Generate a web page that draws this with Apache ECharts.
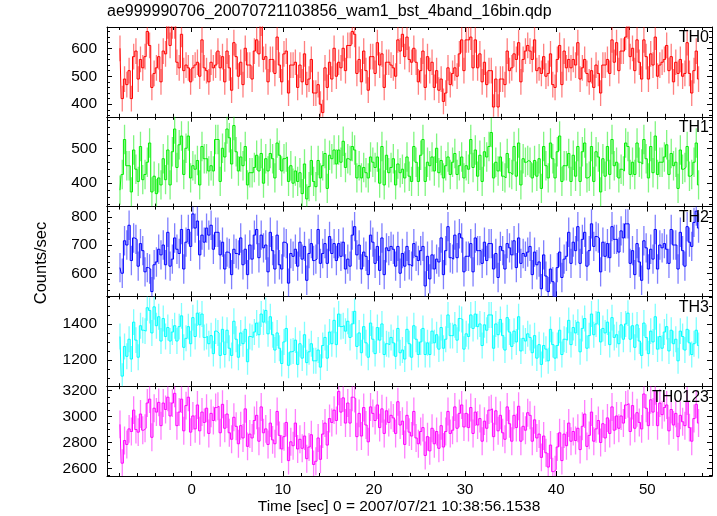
<!DOCTYPE html>
<html>
<head>
<meta charset="utf-8">
<script src="https://cdn.jsdelivr.net/npm/echarts@6.0.0/dist/echarts.min.js"></script>
<style>html,body{margin:0;padding:0;background:#fff}#c{width:717px;height:516px}</style>
</head>
<body>
<div id="c"></div>
<script>
// ---- data ----
const titleText = 'ae999990706_20070721103856_wam1_bst_4band_16bin.qdp';
const xTitle = 'Time [sec] 0 = 2007/07/21 10:38:56.1538';
const yTitle = 'Counts/sec';
const binStart = -7.875;   // centre of the first time bin (s)
const binWidth = 0.25;     // bin width (s)
const xMin = -9.3, xMax = 57.1;
const xMajorTicks = [0, 10, 20, 30, 40, 50];
const xMinorTicks = [-8, -6, -4, -2, 2, 4, 6, 8, 12, 14, 16, 18, 22, 24, 26, 28, 32, 34, 36, 38, 42, 44, 46, 48, 52, 54, 56];

const bandNames = ['TH0', 'TH1', 'TH2', 'TH3', 'TH0123'];
const bandColors = ['#ff0000', '#00ee00', '#0000ff', '#00ffff', '#ff00ff'];
const bandErr = [46, 42, 52, 72, 108];
const yMins = [355, 333, 518, 1054, 2541];
const yMaxs = [676, 590, 836, 1553, 3235];
const yMajor = [[400, 500, 600], [400, 500], [600, 700, 800], [1200, 1400], [2600, 2800, 3000, 3200]];
const yMinorStep = [20, 20, 20, 50, 50];

const TH0 = [
600,420,490,470,520,420,570,590,490,560,530,570,660,610,460,510,530,570,480,590,
580,680,610,680,680,550,530,650,520,540,530,480,530,540,550,500,630,530,520,480,
550,530,540,590,530,570,480,590,530,450,620,570,500,550,470,600,540,540,490,590,
630,580,690,560,570,480,560,560,510,640,540,480,580,590,440,540,540,550,460,540,
480,580,470,490,560,440,440,470,400,370,530,460,550,490,600,500,550,530,600,520,
610,610,660,650,510,560,480,590,520,450,570,570,510,620,540,580,460,550,550,540,
530,500,630,590,650,570,640,560,550,600,550,480,520,590,460,570,520,550,460,520,
450,490,410,440,530,470,510,530,500,580,630,520,630,630,640,530,630,530,580,480,
550,470,520,520,390,490,390,490,490,470,590,520,530,580,560,620,480,560,590,610,
590,560,630,520,530,510,570,500,510,580,470,460,560,610,470,590,530,560,530,560,
540,620,490,530,560,510,480,520,460,540,510,440,540,540,560,510,630,550,620,520,
590,590,640,680,570,600,520,630,550,490,630,570,490,580,540,640,500,540,550,560,
610,520,570,480,550,510,560,500,510,620,510,440,520,590,490];

const TH1 = [
380,425,525,450,450,375,495,440,405,505,410,425,460,515,375,420,370,415,395,470,
410,495,395,490,555,445,510,535,425,500,535,415,450,440,465,395,505,470,470,435,
450,435,525,525,405,500,475,555,530,455,565,490,435,475,450,505,395,430,430,445,
480,435,485,400,470,435,485,470,415,515,480,435,470,475,405,450,400,435,405,430,
370,455,355,390,465,405,390,465,415,450,485,385,480,470,495,455,495,460,520,445,
470,465,505,495,415,450,415,445,430,415,475,460,445,475,400,505,395,480,430,445,
470,395,455,430,440,415,475,420,405,505,460,405,480,525,405,460,450,475,435,500,
430,465,415,450,475,425,460,485,425,450,475,415,450,440,525,445,495,420,480,405,
490,475,505,545,415,460,435,475,420,415,485,430,425,505,420,515,395,470,460,465,
460,415,465,420,470,385,505,450,415,515,470,415,490,535,405,450,450,485,405,480,
420,505,405,490,515,415,420,505,405,490,475,375,470,420,505,425,525,450,460,415,
440,435,515,505,425,460,425,515,460,455,525,470,415,505,430,535,425,460,460,475,
510,425,485,450,460,385,495,440,445,505,420,425,460,515,395];

const TH2 = [
620,600,715,700,770,645,725,720,625,705,680,605,620,615,535,630,640,685,665,700,
630,745,625,650,725,685,670,755,615,710,755,695,810,760,785,665,735,710,760,735,
770,685,745,745,665,710,615,675,670,595,685,670,665,725,630,685,595,700,650,735,
755,655,735,690,700,605,745,680,615,735,630,615,710,705,565,670,660,685,625,710,
650,695,575,670,705,645,650,755,635,670,705,635,730,670,705,645,705,660,710,615,
650,625,735,765,665,700,615,675,660,595,735,710,635,695,610,725,595,690,680,695,
685,625,695,600,670,625,695,630,625,705,660,645,680,695,555,660,580,665,615,650,
640,725,595,680,765,655,650,735,655,740,725,605,660,660,705,605,725,680,680,635,
710,645,705,705,615,670,585,695,680,615,705,690,665,715,620,725,635,670,660,675,
695,595,675,630,640,545,665,590,535,615,570,515,620,675,585,650,660,745,635,710,
680,765,635,720,745,625,680,775,695,730,725,605,710,660,705,655,765,720,720,675,
750,725,775,775,635,680,595,705,640,575,715,690,615,685,650,755,615,700,690,705,
685,635,755,700,700,615,745,680,625,765,710,695,780,820,760];

const TH3 = [
1330,1110,1275,1220,1315,1205,1410,1310,1215,1390,1365,1360,1490,1475,1350,1495,1390,1440,1305,1430,
1330,1380,1305,1355,1390,1305,1385,1445,1270,1320,1385,1290,1435,1330,1460,1395,1455,1325,1330,1290,
1335,1235,1360,1350,1225,1370,1230,1365,1265,1225,1415,1315,1215,1350,1290,1370,1190,1330,1325,1355,
1405,1340,1455,1410,1475,1345,1440,1340,1255,1350,1265,1180,1300,1375,1170,1245,1250,1310,1175,1290,
1210,1340,1185,1245,1290,1195,1195,1255,1160,1280,1325,1210,1355,1290,1420,1285,1455,1385,1390,1360,
1415,1325,1400,1470,1275,1350,1240,1385,1295,1215,1405,1315,1235,1380,1310,1400,1230,1290,1285,1325,
1295,1220,1375,1240,1255,1205,1370,1290,1215,1390,1315,1230,1300,1375,1230,1295,1230,1360,1295,1340,
1260,1380,1265,1315,1450,1335,1335,1395,1310,1430,1425,1260,1345,1330,1450,1375,1455,1385,1400,1280,
1395,1365,1450,1450,1265,1400,1340,1425,1335,1255,1435,1355,1275,1360,1300,1440,1250,1320,1305,1345,
1325,1240,1335,1210,1285,1175,1280,1260,1195,1370,1285,1210,1280,1365,1230,1315,1310,1420,1285,1380,
1350,1410,1245,1375,1430,1265,1335,1455,1340,1400,1465,1300,1375,1350,1410,1285,1435,1325,1340,1290,
1395,1315,1400,1460,1315,1390,1270,1395,1305,1225,1405,1325,1235,1360,1300,1440,1260,1330,1265,1355,
1385,1250,1365,1290,1315,1195,1360,1330,1255,1370,1295,1230,1290,1365,1280];

const TH0123 = [
2940,2640,2815,2785,2905,2885,3050,2900,2880,3020,2895,2910,3105,3135,2840,3065,3035,3110,2930,3105,
3055,3150,3005,3105,3180,2930,3035,3135,2890,3085,3150,2880,3005,2905,3090,2890,3035,2955,3065,2870,
3025,2970,3070,3080,2875,3095,2910,3020,2875,2825,2995,2925,2790,2930,2835,3060,2770,2865,2835,2970,
3010,2810,3075,2875,2905,2785,2950,2820,2790,3040,2855,2750,2845,2955,2660,2805,2775,2950,2750,2825,
2755,2850,2675,2765,2860,2630,2655,2835,2670,2865,2950,2780,2985,2955,3050,2970,3195,3035,3145,2950,
3105,2950,3150,3140,2845,3025,2850,3070,2935,2805,3075,3025,2970,3090,2915,3060,2870,3045,2955,3010,
2990,2870,3115,2935,2965,2785,3010,2880,2850,3040,2835,2790,2885,2915,2700,2845,2735,2910,2790,2885,
2755,2930,2765,2885,3040,2870,2895,3075,2910,3025,3090,2920,3025,2915,3070,2870,3035,2935,2985,2810,
2965,2910,3050,3060,2845,3045,2890,3010,2875,2825,3075,2945,2810,3010,2915,3080,2810,2925,2895,3030,
3010,2810,2975,2835,2865,2685,2850,2720,2610,2780,2575,2590,2765,2875,2660,2865,2775,2950,2810,2885,
2815,2910,2745,2925,3020,2770,2855,3035,2810,2905,2970,2800,2945,2835,2990,2870,3075,2895,3005,2910,
3005,2950,3090,3100,2885,3085,2910,3030,2955,2905,3175,3065,2930,3130,3035,3200,2930,3105,3015,3070,
3090,2890,3055,2935,3025,2845,3010,2960,2930,3120,2915,2810,2985,3095,2950];

const bandValues = [TH0, TH1, TH2, TH3, TH0123];

// ---- layout ----
const gLeft = 107, gWidth = 605, gTop = 27, gH = 89.8;
const FONT = 'Liberation Sans, Arial, Helvetica, sans-serif';

function minorList(min, max, step, majors) {
  const out = [];
  for (let v = Math.ceil(min / step) * step; v <= max; v += step) {
    if (majors.indexOf(v) < 0) out.push(v);
  }
  return out;
}

const grids = [], xAxes = [], yAxes = [], series = [], graphics = [];
bandNames.forEach((name, k) => {
  grids.push({left: gLeft, width: gWidth, top: gTop + k * gH, height: gH, containLabel: false});
  const last = k === bandNames.length - 1;
  const lineBlack = {show: true, onZero: false, lineStyle: {color: '#000', width: 1}};
  const noLine = {show: false, onZero: false};
  const xBase = {type: 'value', gridIndex: k, min: xMin, max: xMax, splitLine: {show: false}};
  const xi = xAxes.length;
  xAxes.push(Object.assign({}, xBase, {position: 'bottom', axisLine: lineBlack,
    axisTick: {show: true, inside: true, length: 5, customValues: xMajorTicks, lineStyle: {color: '#000'}},
    axisLabel: last ? {show: true, customValues: xMajorTicks, color: '#000', fontSize: 15, fontFamily: FONT, margin: 6, formatter: v => String(v)} : {show: false}}));
  xAxes.push(Object.assign({}, xBase, {position: 'bottom', axisLine: noLine,
    axisTick: {show: true, inside: true, length: 3, customValues: xMinorTicks, lineStyle: {color: '#000'}},
    axisLabel: {show: false}}));
  xAxes.push(Object.assign({}, xBase, {position: 'top', axisLine: lineBlack,
    axisTick: {show: true, inside: true, length: 5, customValues: xMajorTicks, lineStyle: {color: '#000'}},
    axisLabel: {show: false}}));
  xAxes.push(Object.assign({}, xBase, {position: 'top', axisLine: noLine,
    axisTick: {show: true, inside: true, length: 3, customValues: xMinorTicks, lineStyle: {color: '#000'}},
    axisLabel: {show: false}}));
  const yMinor = minorList(yMins[k], yMaxs[k], yMinorStep[k], yMajor[k]);
  const yBase = {type: 'value', gridIndex: k, min: yMins[k], max: yMaxs[k], splitLine: {show: false}};
  const yi = yAxes.length;
  yAxes.push(Object.assign({}, yBase, {position: 'left', axisLine: lineBlack,
    axisTick: {show: true, inside: true, length: 5, customValues: yMajor[k], lineStyle: {color: '#000'}},
    axisLabel: {show: true, customValues: yMajor[k], color: '#000', fontSize: 15.5, fontFamily: FONT, margin: 10, formatter: v => String(v)}}));
  yAxes.push(Object.assign({}, yBase, {position: 'left', axisLine: noLine,
    axisTick: {show: true, inside: true, length: 3, customValues: yMinor, lineStyle: {color: '#000'}},
    axisLabel: {show: false}}));
  yAxes.push(Object.assign({}, yBase, {position: 'right', axisLine: lineBlack,
    axisTick: {show: true, inside: true, length: 5, customValues: yMajor[k], lineStyle: {color: '#000'}},
    axisLabel: {show: false}}));
  yAxes.push(Object.assign({}, yBase, {position: 'right', axisLine: noLine,
    axisTick: {show: true, inside: true, length: 3, customValues: yMinor, lineStyle: {color: '#000'}},
    axisLabel: {show: false}}));

  const vals = bandValues[k];
  const pts = vals.map((v, i) => [binStart + i * binWidth, v, bandErr[k]]);
  const col = bandColors[k];
  series.push({
    type: 'custom', xAxisIndex: xi, yAxisIndex: yi, data: pts, clip: true, silent: true,
    renderItem: (params, api) => {
      const x = api.value(0), v = api.value(1), e = api.value(2);
      const p1 = api.coord([x, v + e]), p2 = api.coord([x, v - e]);
      return {type: 'line', shape: {x1: p1[0], y1: p1[1], x2: p2[0], y2: p2[1]},
        style: {stroke: col, lineWidth: 1.3, opacity: 0.5}};
    },
    z: 2
  });
  series.push({
    type: 'line', xAxisIndex: xi, yAxisIndex: yi, data: pts.map(p => [p[0], p[1]]),
    step: 'middle', showSymbol: false, symbol: 'none', clip: true, silent: true,
    lineStyle: {color: col, width: 1}, z: 3
  });
  graphics.push({type: 'text', right: 717 - 709, top: gTop + k * gH + 3,
    style: {text: name, fill: '#000', fontSize: 16, fontFamily: FONT, textAlign: 'right'}, z: 10});
});

graphics.push({type: 'text', left: 107, top: 4,
  style: {text: titleText, fill: '#000', fontSize: 16, fontFamily: FONT}});
graphics.push({type: 'text', x: 399, y: 507,
  style: {text: xTitle, fill: '#000', fontSize: 15.5, fontFamily: FONT, textAlign: 'center', textVerticalAlign: 'middle'}});
graphics.push({type: 'text', x: 41, y: 263, rotation: Math.PI / 2,
  style: {text: yTitle, fill: '#000', fontSize: 16.5, fontFamily: FONT, textAlign: 'center', textVerticalAlign: 'middle'}});

const chart = echarts.init(document.getElementById('c'), null, {renderer: 'canvas'});
chart.setOption({
  animation: false,
  backgroundColor: '#fff',
  grid: grids, xAxis: xAxes, yAxis: yAxes, series: series, graphic: graphics
});
</script>
</body>
</html>
